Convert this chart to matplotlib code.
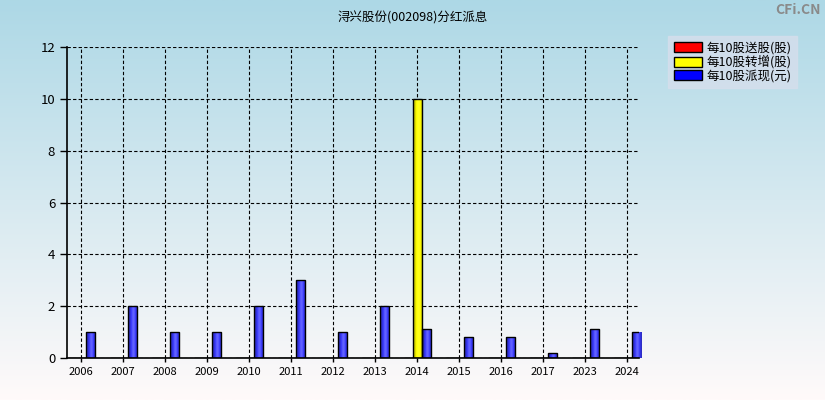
import numpy as np
import matplotlib
matplotlib.use('Agg')
import matplotlib.pyplot as plt
from matplotlib.patches import Patch
from matplotlib.colors import to_rgb

plt.rcParams['font.family'] = ['Noto Sans CJK SC', 'DejaVu Sans']

years = ['2006', '2007', '2008', '2009', '2010', '2011', '2012', '2013',
         '2014', '2015', '2016', '2017', '2023', '2024']
song = [0, 0, 0, 0, 0, 0, 0, 0, 0, 0, 0, 0, 0, 0]
zhuan = [0, 0, 0, 0, 0, 0, 0, 0, 10, 0, 0, 0, 0, 0]
pai = [1, 2, 1, 1, 2, 3, 1, 2, 1.1, 0.8, 0.8, 0.2, 1.1, 1.0]
legend_labels = ['每10股送股(股)', '每10股转增(股)', '每10股派现(元)']
colors = ['#ff0000', '#ffff00', '#3a3aff']

fig = plt.figure(figsize=(8.25, 4), dpi=100)

# background gradient over the whole figure
bg = fig.add_axes([0, 0, 1, 1])
grad = np.linspace(0, 1, 256).reshape(-1, 1)
top = np.array([173, 216, 230]) / 255
bot = np.array([255, 250, 250]) / 255
img = top + (bot - top) * grad[..., None]
bg.imshow(img, aspect='auto', extent=[0, 1, 0, 1])
bg.axis('off')

ax = fig.add_axes([67 / 825, 1 - 358 / 400, 572 / 825, 311 / 400])
ax.patch.set_alpha(0)


def shade(bars, color):
    # cylinder-like horizontal shading inside each bar
    base = np.array(to_rgb(color))
    t = np.linspace(0, 1, 32)
    f = 0.72 + 0.5 * np.exp(-((t - 0.55) / 0.28) ** 2)
    strip = np.clip(base[None, :] * f[:, None] + (f[:, None] - 1).clip(0) * 0.5, 0, 1)
    strip = strip[None, :, :]
    for b in bars:
        if b.get_height() <= 0:
            continue
        x0, y0 = b.get_x(), b.get_y()
        im = ax.imshow(strip, aspect='auto', zorder=3,
                       extent=[x0, x0 + b.get_width(), y0, y0 + b.get_height()])
        im.set_clip_path(b)
        b.set_facecolor('none')


x = np.arange(len(years))
w = 0.215
b1 = ax.bar(x - w + 0.01, song, w, color=colors[0], edgecolor='black', linewidth=1, zorder=4)
b2 = ax.bar(x + 0.01, zhuan, w, color=colors[1], edgecolor='black', linewidth=1, zorder=4)
b3 = ax.bar(x + w + 0.0, pai, w, color=colors[2], edgecolor='black', linewidth=1, zorder=4)
shade(b1, colors[0])
shade(b2, colors[1])
shade(b3, colors[2])

ax.set_xlim(-14 / 42, 13 + 12 / 42)
ax.set_ylim(0, 12)
ax.set_yticks(range(0, 13, 2))
ax.set_xticks(x)
ax.set_xticklabels(years)
ax.tick_params(axis='y', labelsize=9.5, colors='black', length=5, width=1)
ax.tick_params(axis='x', labelsize=8, colors='black', length=3, width=1)
ax.grid(True, color='black', linestyle=(0, (3, 2)), linewidth=0.8, zorder=1)
for s in ['top', 'right']:
    ax.spines[s].set_visible(False)
for s in ['left', 'bottom']:
    ax.spines[s].set_linewidth(1.2)
    ax.spines[s].set_zorder(5)

fig.text(0.5, 1 - 18 / 400, '浔兴股份(002098)分红派息', ha='center', va='center', fontsize=9)
fig.text(0.995, 1 - 10 / 400, 'CFi.CN', ha='right', va='center', fontsize=10,
         color='#8a8a8a', fontweight='bold')

handles = [Patch(facecolor=c, edgecolor='black', linewidth=1) for c in colors]
handles[2] = Patch(facecolor='#0000ff', edgecolor='black', linewidth=1)
leg = fig.legend(handles, legend_labels, loc='upper left',
                 bbox_to_anchor=(668 / 825, 1 - 36 / 400), fontsize=9,
                 frameon=True, fancybox=False, handlelength=2.3, handleheight=0.85,
                 handletextpad=0.35, labelspacing=0.05, borderpad=0.45,
                 borderaxespad=0)
leg.get_frame().set_facecolor('#d6deec')
leg.get_frame().set_edgecolor('#d6deec')

fig.savefig('out.png', dpi=100)
